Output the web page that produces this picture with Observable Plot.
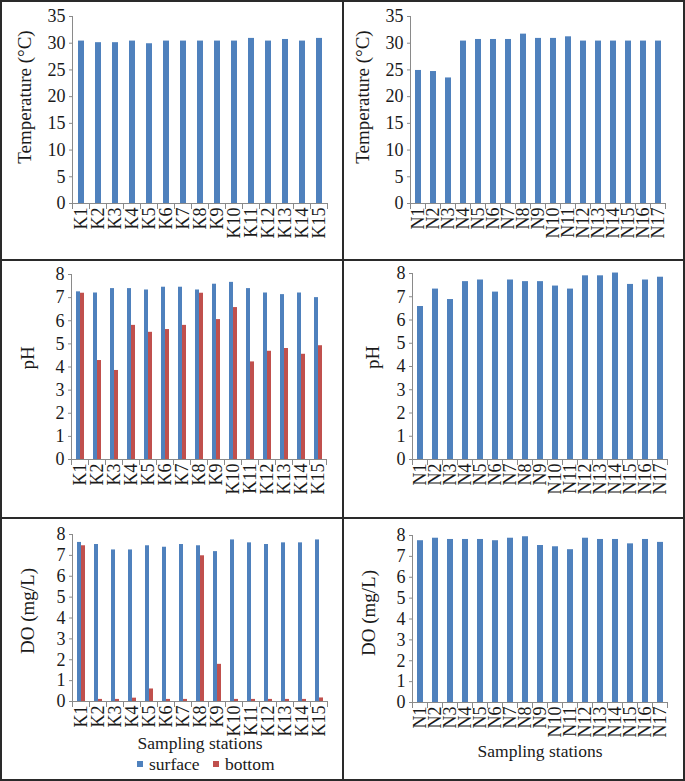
<!DOCTYPE html>
<html><head><meta charset="utf-8">
<script src="https://cdn.jsdelivr.net/npm/d3@7"></script>
<script src="https://cdn.jsdelivr.net/npm/@observablehq/plot@0.6"></script>
<style>
body{margin:0;background:#fff;}
#wrap{position:relative;width:685px;height:781px;overflow:hidden;background:#fff;font-family:"Liberation Serif","Times New Roman",serif;color:#1a1a1a;}
.panel{position:absolute;}
.rule{position:absolute;background:#2a2a2a;z-index:5;}
.sw{position:absolute;width:6px;height:6px;}
.lt{position:absolute;font-family:"Liberation Serif","Times New Roman",serif;font-size:17.5px;line-height:14px;white-space:nowrap;}
</style></head><body><div id="wrap"></div>
<script>
const kStations = ["K1","K2","K3","K4","K5","K6","K7","K8","K9","K10","K11","K12","K13","K14","K15"];
const nStations = ["N1","N2","N3","N4","N5","N6","N7","N8","N9","N10","N11","N12","N13","N14","N15","N16","N17"];
const series = ["surface","bottom"];
const colors = ["#4F81BD","#C0504D"];

const kTemp = [30.4,30.1,30.1,30.4,29.9,30.4,30.4,30.4,30.4,30.4,30.9,30.4,30.7,30.4,30.9];
const nTemp = [24.9,24.7,23.5,30.4,30.7,30.7,30.7,31.7,30.9,30.9,31.2,30.4,30.4,30.4,30.4,30.4,30.4];

const kPhSurface = [7.25,7.2,7.39,7.39,7.33,7.45,7.45,7.33,7.58,7.66,7.39,7.2,7.13,7.2,7.0];
const kPhBottom  = [7.19,4.28,3.85,5.8,5.5,5.62,5.8,7.19,6.05,6.57,4.22,4.68,4.8,4.55,4.92];
const nPh = [6.58,7.33,6.88,7.65,7.72,7.2,7.72,7.65,7.65,7.46,7.33,7.9,7.9,8.02,7.53,7.72,7.84];

const kDoSurface = [7.62,7.52,7.26,7.26,7.46,7.39,7.52,7.46,7.18,7.74,7.6,7.52,7.6,7.6,7.74];
const kDoBottom  = [7.46,0.1,0.1,0.16,0.6,0.1,0.1,6.98,1.78,0.1,0.1,0.1,0.1,0.1,0.17];
const nDo = [7.75,7.87,7.81,7.81,7.81,7.75,7.87,7.94,7.52,7.46,7.32,7.87,7.81,7.81,7.6,7.81,7.67];

const tempTicks = [0,5,10,15,20,25,30,35];
const phTicks = [0,1,2,3,4,5,6,7,8];
const doTicks = [0,1,2,3,4,5,6,7,8];

const yLabels = ["Temperature (°C)","pH","DO (mg/L)"];
const xLabel = "Sampling stations";

const axisGray = "#8a8a8a";
const serif = '"Liberation Serif","Times New Roman",serif';
const wrap = document.getElementById("wrap");

function panel(cfg) {
  const rows = [];
  cfg.stations.forEach((s, i) => {
    rows.push({station: s, series: series[0], value: cfg.surface[i]});
    if (cfg.bottom) rows.push({station: s, series: series[1], value: cfg.bottom[i]});
  });
  const innerH = cfg.height - cfg.mt - cfg.mb;
  const marks = [
    Plot.barY(rows, {fx: "station", x: "series", y: "value", fill: "series"}),
    Plot.ruleY([0], {stroke: axisGray}),
    Plot.frame({anchor: "left", facetAnchor: "left", stroke: axisGray}),
    Plot.frame({anchor: "left", insetTop: innerH, insetBottom: -5, stroke: axisGray}),
    Plot.frame({anchor: "right", facetAnchor: "right", insetTop: innerH, insetBottom: -5, stroke: axisGray}),
    Plot.axisY({ticks: cfg.ticks, tickSize: 3, tickPadding: 4, stroke: axisGray, label: null, fontSize: 18}),
    Plot.axisFx({anchor: "bottom", tickRotate: -90, tickSize: 0, tickPadding: 4, fontSize: 18, label: null}),
    Plot.text([cfg.yLabel], {text: d => d, frameAnchor: "left", facetAnchor: "left", rotate: -90, textAnchor: "middle", lineAnchor: "top", dx: -(cfg.ml - cfg.labelLeft), dy: cfg.labelDy, fontSize: 19})
  ];
  if (cfg.xLabel) {
    marks.push(Plot.axisFx({anchor: "bottom", ticks: [], tickSize: 0, label: cfg.xLabel, labelAnchor: "center", labelOffset: cfg.xLabelOffset, fontSize: 17.5}));
  }
  const chart = Plot.plot({
    width: cfg.width, height: cfg.height,
    marginTop: cfg.mt, marginRight: cfg.mr, marginBottom: cfg.mb, marginLeft: cfg.ml,
    style: {fontFamily: serif, fontSize: "17.5px", color: "#1a1a1a", background: "transparent", overflow: "visible"},
    fx: {domain: cfg.stations, padding: 0},
    x: {domain: cfg.bottom ? series : [series[0]], paddingInner: 0, paddingOuter: 0.75, axis: null},
    y: {domain: cfg.domain, axis: null},
    color: {domain: series, range: colors},
    marks
  });
  const div = document.createElement("div");
  div.className = "panel";
  div.style.left = cfg.left + "px";
  div.style.top = cfg.top + "px";
  div.appendChild(chart);
  wrap.appendChild(div);
}

panel({stations: kStations, surface: kTemp, domain: [0,35], ticks: tempTicks, yLabel: yLabels[0],
  left: 0, top: 0, width: 343, height: 260, ml: 69, mr: 13, mt: 16, mb: 57, labelLeft: 14, labelDy: -13});
panel({stations: nStations, surface: nTemp, domain: [0,35], ticks: tempTicks, yLabel: yLabels[0],
  left: 343, top: 0, width: 342, height: 260, ml: 66, mr: 19, mt: 16, mb: 57, labelLeft: 11, labelDy: -13});
panel({stations: kStations, surface: kPhSurface, bottom: kPhBottom, domain: [0,8], ticks: phTicks, yLabel: yLabels[1],
  left: 0, top: 260, width: 343, height: 259, ml: 67, mr: 13, mt: 14, mb: 60, labelLeft: 16, labelDy: -9});
panel({stations: nStations, surface: nPh, domain: [0,8], ticks: phTicks, yLabel: yLabels[1],
  left: 343, top: 260, width: 342, height: 259, ml: 65, mr: 14, mt: 13, mb: 60, labelLeft: 18, labelDy: -9});
panel({stations: kStations, surface: kDoSurface, bottom: kDoBottom, domain: [0,8], ticks: doTicks, yLabel: yLabels[2],
  xLabel: xLabel, xLabelOffset: 47,
  left: 0, top: 519, width: 343, height: 262, ml: 68, mr: 13, mt: 15, mb: 80, labelLeft: 16, labelDy: -7});
panel({stations: nStations, surface: nDo, domain: [0,8], ticks: doTicks, yLabel: yLabels[2],
  xLabel: xLabel, xLabelOffset: 54,
  left: 343, top: 519, width: 342, height: 262, ml: 65, mr: 15, mt: 16, mb: 79, labelLeft: 14, labelDy: -6});

// legend
const legendPos = [{sw: 137, tx: 149}, {sw: 213, tx: 225}];
series.forEach((s, i) => {
  const sw = document.createElement("div");
  sw.className = "sw";
  sw.style.left = legendPos[i].sw + "px";
  sw.style.top = "761px";
  sw.style.background = colors[i];
  wrap.appendChild(sw);
  const t = document.createElement("div");
  t.className = "lt";
  t.style.left = legendPos[i].tx + "px";
  t.style.top = "757px";
  t.textContent = s;
  wrap.appendChild(t);
});

// panel borders
[[0,0,685,2],[0,779,685,2],[0,0,2,781],[683,0,2,781],[342,0,2,781],[0,259,685,2],[0,517,685,2]].forEach(([l,t,w,h]) => {
  const r = document.createElement("div");
  r.className = "rule";
  Object.assign(r.style, {left: l+"px", top: t+"px", width: w+"px", height: h+"px"});
  wrap.appendChild(r);
});
</script></body></html>
